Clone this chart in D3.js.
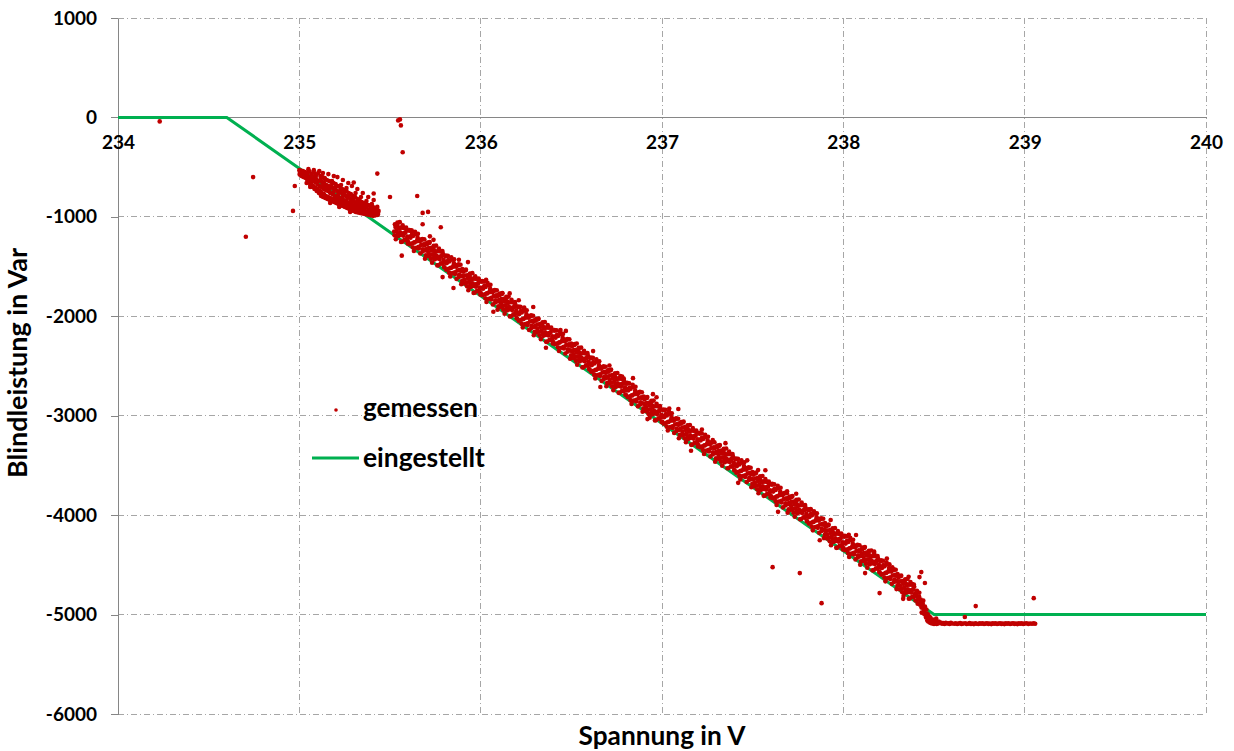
<!DOCTYPE html>
<html><head><meta charset="utf-8">
<script src="https://cdn.jsdelivr.net/npm/d3@7"></script>
<style>
body{margin:0;background:#fff}
text{font-family:Lato,"Open Sans",sans-serif;font-weight:bold;fill:#000}
</style>
</head><body>
<svg id="c" width="1234" height="751"></svg>
<script>
const xTicks=[234,235,236,237,238,239,240];
const yTicks=[1000,0,-1000,-2000,-3000,-4000,-5000,-6000];
const xTitle="Spannung in V";
const yTitle="Blindleistung in Var";
const legendLabels=["gemessen","eingestellt"];
// eingestellt (set characteristic)
const setV=[234,234.6,238.5,240];
const setQ=[0,0,-5000,-5000];
const measuredCluster1=[
[235.000,-530],[235.003,-560],[235.010,-545],[235.013,-590],[235.020,-540],[235.024,-600],[235.027,-570],
[235.032,-550],[235.036,-610],[235.040,-660],[235.044,-560],[235.048,-640],[235.051,-600],
[235.056,-545],[235.060,-680],[235.063,-620],[235.068,-570],[235.072,-700],[235.075,-640],
[235.080,-555],[235.084,-720],[235.087,-650],[235.092,-580],[235.096,-740],[235.099,-670],
[235.104,-560],[235.108,-760],[235.111,-690],[235.116,-590],[235.119,-780],[235.122,-700],[235.125,-650],
[235.128,-600],[235.131,-800],[235.134,-720],[235.137,-660],[235.140,-610],[235.143,-810],[235.146,-730],[235.149,-680],
[235.152,-630],[235.155,-820],[235.158,-740],[235.161,-690],[235.164,-640],[235.167,-830],[235.170,-760],[235.173,-700],
[235.176,-650],[235.179,-840],[235.182,-770],[235.185,-710],[235.188,-660],[235.191,-850],[235.194,-790],[235.197,-720],
[235.200,-670],[235.203,-860],[235.206,-800],[235.209,-740],[235.212,-690],[235.215,-870],[235.218,-810],[235.221,-750],
[235.224,-700],[235.227,-880],[235.230,-820],[235.233,-760],[235.236,-720],[235.239,-890],[235.242,-830],[235.245,-780],
[235.248,-730],[235.251,-900],[235.254,-850],[235.257,-790],[235.260,-740],[235.263,-910],[235.266,-860],[235.269,-800],
[235.272,-760],[235.275,-920],[235.278,-870],[235.281,-820],[235.284,-770],[235.287,-930],[235.290,-880],[235.293,-830],
[235.296,-790],[235.299,-940],[235.302,-890],[235.305,-850],[235.308,-800],[235.311,-950],[235.314,-900],[235.317,-860],
[235.320,-820],[235.323,-955],[235.326,-910],[235.329,-870],[235.332,-830],[235.335,-960],[235.338,-920],[235.341,-880],
[235.344,-850],[235.347,-965],[235.350,-930],[235.353,-890],[235.356,-860],[235.359,-970],[235.362,-940],[235.365,-900],
[235.368,-870],[235.371,-975],[235.374,-950],[235.380,-880],[235.383,-980],[235.386,-940],[235.392,-890],[235.395,-985],[235.398,-950],
[235.404,-900],[235.407,-990],[235.410,-960],[235.416,-910],[235.419,-985],[235.422,-950],[235.428,-920],[235.431,-980],[235.434,-960],[235.437,-940],
[235.002,-575],[235.007,-535],[235.015,-565],[235.022,-585],[235.030,-595],[235.034,-575],[235.042,-620],[235.046,-585],[235.053,-650],[235.058,-605],
[235.065,-660],[235.070,-615],[235.077,-690],[235.082,-600],[235.089,-705],[235.094,-625],[235.101,-720],[235.106,-640],[235.113,-735],[235.118,-620],
[235.124,-760],[235.129,-690],[235.136,-770],[235.141,-700],[235.147,-790],[235.153,-710],[235.159,-800],[235.165,-730],[235.171,-810],[235.177,-690],
[235.183,-820],[235.189,-750],[235.195,-830],[235.201,-700],[235.207,-840],[235.213,-780],[235.219,-850],[235.225,-740],[235.231,-860],[235.237,-800],
[235.243,-870],[235.249,-760],[235.255,-880],[235.261,-830],[235.267,-890],[235.273,-790],[235.279,-900],[235.285,-850],[235.291,-910],[235.297,-820],
[235.303,-920],[235.309,-870],[235.315,-930],[235.321,-850],[235.327,-940],[235.333,-895],[235.339,-945],[235.345,-875],[235.351,-950],[235.357,-915],
[235.363,-960],[235.369,-900],[235.376,-965],[235.382,-925],[235.389,-970],[235.396,-915],[235.403,-975],[235.411,-935],[235.418,-965],[235.425,-945],[235.433,-975],
[235.05,-520],[235.08,-530],[235.11,-540],[235.13,-560],[235.16,-570],[235.19,-590],[235.21,-600],[235.24,-630],[235.27,-660],[235.29,-690],[235.32,-720],[235.35,-760],
[235.38,-800],[235.41,-830],[235.09,-600],[235.14,-620],[235.18,-640],[235.23,-680],[235.26,-710],[235.31,-760],[235.34,-800],[235.37,-840],[235.40,-870],[235.43,-900],
[235.06,-700],[235.12,-790],[235.17,-860],[235.22,-900],[235.28,-950]
];
const measuredBand=[
[235.523,-1148],[235.527,-1074],[235.532,-1225],[235.536,-1140],[235.541,-1056],[235.545,-1192],[235.550,-1118],[235.554,-1053],[235.558,-1183],[235.563,-1110],[235.567,-1250],[235.572,-1166],[235.576,-1111],[235.580,-1231],[235.585,-1158],[235.589,-1108],[235.594,-1219],[235.598,-1269],
[235.602,-1205],[235.606,-1140],[235.610,-1275],[235.614,-1195],[235.619,-1136],[235.623,-1266],[235.627,-1192],[235.632,-1343],[235.636,-1258],[235.641,-1174],[235.645,-1310],[235.650,-1236],[235.654,-1171],[235.658,-1301],[235.663,-1228],[235.667,-1368],[235.672,-1284],[235.676,-1229],[235.680,-1349],[235.685,-1276],[235.689,-1226],[235.694,-1337],[235.698,-1387],
[235.702,-1323],[235.706,-1258],[235.710,-1393],[235.714,-1313],[235.719,-1254],[235.723,-1384],[235.727,-1310],[235.732,-1461],[235.736,-1376],[235.741,-1292],[235.745,-1428],[235.750,-1354],[235.754,-1289],[235.758,-1419],[235.763,-1346],[235.767,-1486],[235.772,-1402],[235.776,-1347],[235.780,-1467],[235.785,-1394],[235.789,-1344],[235.794,-1455],[235.798,-1505],
[235.802,-1461],[235.806,-1396],[235.810,-1531],[235.814,-1451],[235.819,-1392],[235.823,-1522],[235.827,-1448],[235.832,-1599],[235.836,-1514],[235.841,-1430],[235.845,-1566],[235.850,-1492],[235.854,-1427],[235.858,-1557],[235.863,-1484],[235.867,-1624],[235.872,-1540],[235.876,-1485],[235.880,-1605],[235.885,-1532],[235.889,-1482],[235.894,-1593],[235.898,-1643],
[235.902,-1600],[235.906,-1535],[235.910,-1670],[235.914,-1590],[235.919,-1531],[235.923,-1661],[235.927,-1587],[235.932,-1738],[235.936,-1653],[235.941,-1569],[235.945,-1705],[235.950,-1631],[235.954,-1566],[235.958,-1696],[235.963,-1623],[235.967,-1763],[235.972,-1679],[235.976,-1624],[235.980,-1744],[235.985,-1671],[235.989,-1621],[235.994,-1732],[235.998,-1782],
[236.002,-1718],[236.006,-1653],[236.010,-1788],[236.014,-1708],[236.019,-1649],[236.023,-1779],[236.027,-1705],[236.032,-1856],[236.036,-1771],[236.041,-1687],[236.045,-1823],[236.050,-1749],[236.054,-1684],[236.058,-1814],[236.063,-1741],[236.067,-1881],[236.072,-1797],[236.076,-1742],[236.080,-1862],[236.085,-1789],[236.089,-1739],[236.094,-1850],[236.098,-1900],
[236.102,-1836],[236.106,-1771],[236.110,-1906],[236.114,-1826],[236.119,-1767],[236.123,-1897],[236.127,-1823],[236.132,-1974],[236.136,-1889],[236.141,-1805],[236.145,-1941],[236.150,-1867],[236.154,-1802],[236.158,-1932],[236.163,-1859],[236.167,-1999],[236.172,-1915],[236.176,-1860],[236.180,-1980],[236.185,-1907],[236.189,-1857],[236.194,-1968],[236.198,-2018],
[236.202,-1974],[236.206,-1909],[236.210,-2044],[236.214,-1964],[236.219,-1905],[236.223,-2035],[236.227,-1961],[236.232,-2112],[236.236,-2027],[236.241,-1943],[236.245,-2079],[236.250,-2005],[236.254,-1940],[236.258,-2070],[236.263,-1997],[236.267,-2137],[236.272,-2053],[236.276,-1998],[236.280,-2118],[236.285,-2045],[236.289,-1995],[236.294,-2106],[236.298,-2156],
[236.302,-2092],[236.306,-2027],[236.310,-2162],[236.314,-2082],[236.319,-2023],[236.323,-2153],[236.327,-2079],[236.332,-2230],[236.336,-2145],[236.341,-2061],[236.345,-2197],[236.350,-2123],[236.354,-2058],[236.358,-2188],[236.363,-2115],[236.367,-2255],[236.372,-2171],[236.376,-2116],[236.380,-2236],[236.385,-2163],[236.389,-2113],[236.394,-2224],[236.398,-2274],
[236.402,-2211],[236.406,-2146],[236.410,-2281],[236.414,-2201],[236.419,-2142],[236.423,-2272],[236.427,-2198],[236.432,-2349],[236.436,-2264],[236.441,-2180],[236.445,-2316],[236.450,-2242],[236.454,-2177],[236.458,-2307],[236.463,-2234],[236.467,-2374],[236.472,-2290],[236.476,-2235],[236.480,-2355],[236.485,-2282],[236.489,-2232],[236.494,-2343],[236.498,-2393],
[236.502,-2349],[236.506,-2284],[236.510,-2419],[236.514,-2339],[236.519,-2280],[236.523,-2410],[236.527,-2336],[236.532,-2487],[236.536,-2402],[236.541,-2318],[236.545,-2454],[236.550,-2380],[236.554,-2315],[236.558,-2445],[236.563,-2372],[236.567,-2512],[236.572,-2428],[236.576,-2373],[236.580,-2493],[236.585,-2420],[236.589,-2370],[236.594,-2481],[236.598,-2531],
[236.602,-2487],[236.606,-2422],[236.610,-2557],[236.614,-2477],[236.619,-2418],[236.623,-2548],[236.627,-2474],[236.632,-2625],[236.636,-2540],[236.641,-2456],[236.645,-2592],[236.650,-2518],[236.654,-2453],[236.658,-2583],[236.663,-2510],[236.667,-2650],[236.672,-2566],[236.676,-2511],[236.680,-2631],[236.685,-2558],[236.689,-2508],[236.694,-2619],[236.698,-2669],
[236.702,-2605],[236.706,-2540],[236.710,-2675],[236.714,-2595],[236.719,-2536],[236.723,-2666],[236.727,-2592],[236.732,-2743],[236.736,-2658],[236.741,-2574],[236.745,-2710],[236.750,-2636],[236.754,-2571],[236.758,-2701],[236.763,-2628],[236.767,-2768],[236.772,-2684],[236.776,-2629],[236.780,-2749],[236.785,-2676],[236.789,-2626],[236.794,-2737],[236.798,-2787],
[236.802,-2743],[236.806,-2678],[236.810,-2813],[236.814,-2733],[236.819,-2674],[236.823,-2804],[236.827,-2730],[236.832,-2881],[236.836,-2796],[236.841,-2712],[236.845,-2848],[236.850,-2774],[236.854,-2709],[236.858,-2839],[236.863,-2766],[236.867,-2906],[236.872,-2822],[236.876,-2767],[236.880,-2887],[236.885,-2814],[236.889,-2764],[236.894,-2875],[236.898,-2925],
[236.902,-2882],[236.906,-2817],[236.910,-2952],[236.914,-2872],[236.919,-2813],[236.923,-2943],[236.927,-2869],[236.932,-3020],[236.936,-2935],[236.941,-2851],[236.945,-2987],[236.950,-2913],[236.954,-2848],[236.958,-2978],[236.963,-2905],[236.967,-3045],[236.972,-2961],[236.976,-2906],[236.980,-3026],[236.985,-2953],[236.989,-2903],[236.994,-3014],[236.998,-3064],
[237.002,-3010],[237.006,-2945],[237.010,-3080],[237.014,-3000],[237.019,-2941],[237.023,-3071],[237.027,-2997],[237.032,-3148],[237.036,-3063],[237.041,-2979],[237.045,-3115],[237.050,-3041],[237.054,-2976],[237.058,-3106],[237.063,-3033],[237.067,-3173],[237.072,-3089],[237.076,-3034],[237.080,-3154],[237.085,-3081],[237.089,-3031],[237.094,-3142],[237.098,-3192],
[237.102,-3128],[237.106,-3063],[237.110,-3198],[237.114,-3118],[237.119,-3059],[237.123,-3189],[237.127,-3115],[237.132,-3266],[237.136,-3181],[237.141,-3097],[237.145,-3233],[237.150,-3159],[237.154,-3094],[237.158,-3224],[237.163,-3151],[237.167,-3291],[237.172,-3207],[237.176,-3152],[237.180,-3272],[237.185,-3199],[237.189,-3149],[237.194,-3260],[237.198,-3310],
[237.202,-3246],[237.206,-3181],[237.210,-3316],[237.214,-3236],[237.219,-3177],[237.223,-3307],[237.227,-3233],[237.232,-3384],[237.236,-3299],[237.241,-3215],[237.245,-3351],[237.250,-3277],[237.254,-3212],[237.258,-3342],[237.263,-3269],[237.267,-3409],[237.272,-3325],[237.276,-3270],[237.280,-3390],[237.285,-3317],[237.289,-3267],[237.294,-3378],[237.298,-3428],
[237.302,-3364],[237.306,-3299],[237.310,-3434],[237.314,-3354],[237.319,-3295],[237.323,-3425],[237.327,-3351],[237.332,-3502],[237.336,-3417],[237.341,-3333],[237.345,-3469],[237.350,-3395],[237.354,-3330],[237.358,-3460],[237.363,-3387],[237.367,-3527],[237.372,-3443],[237.376,-3388],[237.380,-3508],[237.385,-3435],[237.389,-3385],[237.394,-3496],[237.398,-3546],
[237.402,-3503],[237.406,-3438],[237.410,-3573],[237.414,-3493],[237.419,-3434],[237.423,-3564],[237.427,-3490],[237.432,-3641],[237.436,-3556],[237.441,-3472],[237.445,-3608],[237.450,-3534],[237.454,-3469],[237.458,-3599],[237.463,-3526],[237.467,-3666],[237.472,-3582],[237.476,-3527],[237.480,-3647],[237.485,-3574],[237.489,-3524],[237.494,-3635],[237.498,-3685],
[237.502,-3641],[237.506,-3576],[237.510,-3711],[237.514,-3631],[237.519,-3572],[237.523,-3702],[237.527,-3628],[237.532,-3779],[237.536,-3694],[237.541,-3610],[237.545,-3746],[237.550,-3672],[237.554,-3607],[237.558,-3737],[237.563,-3664],[237.567,-3804],[237.572,-3720],[237.576,-3665],[237.580,-3785],[237.585,-3712],[237.589,-3662],[237.594,-3773],[237.598,-3823],
[237.602,-3759],[237.606,-3694],[237.610,-3829],[237.614,-3749],[237.619,-3690],[237.623,-3820],[237.627,-3746],[237.632,-3897],[237.636,-3812],[237.641,-3728],[237.645,-3864],[237.650,-3790],[237.654,-3725],[237.658,-3855],[237.663,-3782],[237.667,-3922],[237.672,-3838],[237.676,-3783],[237.680,-3903],[237.685,-3830],[237.689,-3780],[237.694,-3891],[237.698,-3941],
[237.702,-3877],[237.706,-3812],[237.710,-3947],[237.714,-3867],[237.719,-3808],[237.723,-3938],[237.727,-3864],[237.732,-4015],[237.736,-3930],[237.741,-3846],[237.745,-3982],[237.750,-3908],[237.754,-3843],[237.758,-3973],[237.763,-3900],[237.767,-4040],[237.772,-3956],[237.776,-3901],[237.780,-4021],[237.785,-3948],[237.789,-3898],[237.794,-4009],[237.798,-4059],
[237.802,-4015],[237.806,-3950],[237.810,-4085],[237.814,-4005],[237.819,-3946],[237.823,-4076],[237.827,-4002],[237.832,-4153],[237.836,-4068],[237.841,-3984],[237.845,-4120],[237.850,-4046],[237.854,-3981],[237.858,-4111],[237.863,-4038],[237.867,-4178],[237.872,-4094],[237.876,-4039],[237.880,-4159],[237.885,-4086],[237.889,-4036],[237.894,-4147],[237.898,-4197],
[237.902,-4164],[237.906,-4099],[237.910,-4234],[237.914,-4154],[237.919,-4095],[237.923,-4225],[237.927,-4151],[237.932,-4302],[237.936,-4217],[237.941,-4133],[237.945,-4269],[237.950,-4195],[237.954,-4130],[237.958,-4260],[237.963,-4187],[237.967,-4327],[237.972,-4243],[237.976,-4188],[237.980,-4308],[237.985,-4235],[237.989,-4185],[237.994,-4296],[237.998,-4346],
[238.002,-4282],[238.006,-4217],[238.010,-4352],[238.014,-4272],[238.019,-4213],[238.023,-4343],[238.027,-4269],[238.032,-4420],[238.036,-4335],[238.041,-4251],[238.045,-4387],[238.050,-4313],[238.054,-4248],[238.058,-4378],[238.063,-4305],[238.067,-4445],[238.072,-4361],[238.076,-4306],[238.080,-4426],[238.085,-4353],[238.089,-4303],[238.094,-4414],[238.098,-4464],
[238.102,-4390],[238.106,-4325],[238.110,-4460],[238.114,-4380],[238.119,-4321],[238.123,-4451],[238.127,-4377],[238.132,-4528],[238.136,-4443],[238.141,-4359],[238.145,-4495],[238.150,-4421],[238.154,-4356],[238.158,-4486],[238.163,-4413],[238.167,-4553],[238.172,-4469],[238.176,-4414],[238.180,-4534],[238.185,-4461],[238.189,-4411],[238.194,-4522],[238.198,-4572],
[238.202,-4528],[238.206,-4463],[238.210,-4598],[238.214,-4518],[238.219,-4459],[238.223,-4589],[238.227,-4515],[238.232,-4666],[238.236,-4581],[238.241,-4497],[238.245,-4633],[238.250,-4559],[238.254,-4494],[238.258,-4624],[238.263,-4551],[238.267,-4691],[238.272,-4607],[238.276,-4552],[238.280,-4672],[238.285,-4599],[238.289,-4549],[238.294,-4660],[238.298,-4710],
[238.302,-4676],[238.306,-4611],[238.310,-4746],[238.314,-4666],[238.319,-4607],[238.323,-4737],[238.327,-4663],[238.332,-4814],[238.336,-4729],[238.341,-4645],[238.345,-4781],[238.350,-4707],[238.354,-4642],[238.358,-4772],[238.363,-4699],[238.367,-4839],[238.372,-4755],[238.376,-4700],[238.380,-4820],[238.385,-4747],[238.389,-4697],[238.394,-4808],[238.398,-4858],
[238.402,-4810],[238.406,-4760],[238.410,-4890],[238.414,-4830],[238.419,-4780],[238.423,-4900],[238.427,-4850],[238.432,-4980],[238.436,-4910],[238.441,-4860],[238.445,-4960],[238.450,-4920],[238.454,-5010],[238.458,-4950],[238.463,-5060],[238.467,-5000],[238.472,-5040],[238.476,-5080],[238.480,-5030],[238.485,-5070],[238.489,-5090],[238.494,-5050],[238.498,-5080],[238.503,-5060],[238.508,-5085],[238.512,-5040],[238.517,-5075],[238.521,-5090],[238.526,-5070]
];
const measuredBand2=[
[235.525,-1186],[235.530,-1102],[235.539,-1074],[235.543,-1169],[235.547,-1104],[235.556,-1156],[235.561,-1252],[235.570,-1084],[235.574,-1189],[235.583,-1160],[235.587,-1236],[235.591,-1131],[235.596,-1197],
[235.601,-1253],[235.608,-1132],[235.613,-1209],[235.621,-1179],[235.626,-1305],[235.634,-1256],[235.638,-1151],[235.649,-1245],[235.652,-1209],[235.659,-1318],[235.665,-1245],[235.678,-1222],[235.681,-1326],[235.690,-1287],[235.693,-1421],[235.699,-1269],
[235.704,-1275],[235.712,-1355],[235.717,-1262],[235.725,-1422],[235.730,-1338],[235.739,-1310],[235.743,-1405],[235.747,-1340],[235.756,-1392],[235.761,-1488],[235.770,-1320],[235.774,-1425],[235.783,-1396],[235.787,-1472],[235.791,-1367],[235.796,-1433],
[235.801,-1509],[235.808,-1388],[235.813,-1465],[235.821,-1435],[235.826,-1561],[235.834,-1512],[235.838,-1407],[235.849,-1501],[235.852,-1465],[235.859,-1574],[235.865,-1501],[235.878,-1478],[235.881,-1582],[235.890,-1543],[235.893,-1677],[235.899,-1525],
[235.904,-1552],[235.912,-1632],[235.917,-1539],[235.925,-1699],[235.930,-1615],[235.939,-1587],[235.943,-1682],[235.947,-1617],[235.956,-1669],[235.961,-1765],[235.970,-1597],[235.974,-1702],[235.983,-1673],[235.987,-1749],[235.991,-1644],[235.996,-1710],
[236.001,-1766],[236.008,-1645],[236.013,-1722],[236.021,-1692],[236.026,-1818],[236.034,-1769],[236.038,-1664],[236.049,-1758],[236.052,-1722],[236.059,-1831],[236.065,-1758],[236.078,-1735],[236.081,-1839],[236.090,-1800],[236.093,-1934],[236.099,-1782],
[236.104,-1788],[236.112,-1868],[236.117,-1775],[236.125,-1935],[236.130,-1851],[236.139,-1823],[236.143,-1918],[236.147,-1853],[236.156,-1905],[236.161,-2001],[236.170,-1833],[236.174,-1938],[236.183,-1909],[236.187,-1985],[236.191,-1880],[236.196,-1946],
[236.201,-2022],[236.208,-1901],[236.213,-1978],[236.221,-1948],[236.226,-2074],[236.234,-2025],[236.238,-1920],[236.249,-2014],[236.252,-1978],[236.259,-2087],[236.265,-2014],[236.278,-1991],[236.281,-2095],[236.290,-2056],[236.293,-2190],[236.299,-2038],
[236.304,-2044],[236.312,-2124],[236.317,-2031],[236.325,-2191],[236.330,-2107],[236.339,-2079],[236.343,-2174],[236.347,-2109],[236.356,-2161],[236.361,-2257],[236.370,-2089],[236.374,-2194],[236.383,-2165],[236.387,-2241],[236.391,-2136],[236.396,-2202],
[236.401,-2259],[236.408,-2138],[236.413,-2215],[236.421,-2185],[236.426,-2311],[236.434,-2262],[236.438,-2157],[236.449,-2251],[236.452,-2215],[236.459,-2324],[236.465,-2251],[236.478,-2228],[236.481,-2332],[236.490,-2293],[236.493,-2427],[236.499,-2275],
[236.504,-2301],[236.512,-2381],[236.517,-2288],[236.525,-2448],[236.530,-2364],[236.539,-2336],[236.543,-2431],[236.547,-2366],[236.556,-2418],[236.561,-2514],[236.570,-2346],[236.574,-2451],[236.583,-2422],[236.587,-2498],[236.591,-2393],[236.596,-2459],
[236.601,-2535],[236.608,-2414],[236.613,-2491],[236.621,-2461],[236.626,-2587],[236.634,-2538],[236.638,-2433],[236.649,-2527],[236.652,-2491],[236.659,-2600],[236.665,-2527],[236.678,-2504],[236.681,-2608],[236.690,-2569],[236.693,-2703],[236.699,-2551],
[236.704,-2557],[236.712,-2637],[236.717,-2544],[236.725,-2704],[236.730,-2620],[236.739,-2592],[236.743,-2687],[236.747,-2622],[236.756,-2674],[236.761,-2770],[236.770,-2602],[236.774,-2707],[236.783,-2678],[236.787,-2754],[236.791,-2649],[236.796,-2715],
[236.801,-2791],[236.808,-2670],[236.813,-2747],[236.821,-2717],[236.826,-2843],[236.834,-2794],[236.838,-2689],[236.849,-2783],[236.852,-2747],[236.859,-2856],[236.865,-2783],[236.878,-2760],[236.881,-2864],[236.890,-2825],[236.893,-2959],[236.899,-2807],
[236.904,-2834],[236.912,-2914],[236.917,-2821],[236.925,-2981],[236.930,-2897],[236.939,-2869],[236.943,-2964],[236.947,-2899],[236.956,-2951],[236.961,-3047],[236.970,-2879],[236.974,-2984],[236.983,-2955],[236.987,-3031],[236.991,-2926],[236.996,-2992],
[237.001,-3058],[237.008,-2937],[237.013,-3014],[237.021,-2984],[237.026,-3110],[237.034,-3061],[237.038,-2956],[237.049,-3050],[237.052,-3014],[237.059,-3123],[237.065,-3050],[237.078,-3027],[237.081,-3131],[237.090,-3092],[237.093,-3226],[237.099,-3074],
[237.104,-3080],[237.112,-3160],[237.117,-3067],[237.125,-3227],[237.130,-3143],[237.139,-3115],[237.143,-3210],[237.147,-3145],[237.156,-3197],[237.161,-3293],[237.170,-3125],[237.174,-3230],[237.183,-3201],[237.187,-3277],[237.191,-3172],[237.196,-3238],
[237.201,-3294],[237.208,-3173],[237.213,-3250],[237.221,-3220],[237.226,-3346],[237.234,-3297],[237.238,-3192],[237.249,-3286],[237.252,-3250],[237.259,-3359],[237.265,-3286],[237.278,-3263],[237.281,-3367],[237.290,-3328],[237.293,-3462],[237.299,-3310],
[237.304,-3316],[237.312,-3396],[237.317,-3303],[237.325,-3463],[237.330,-3379],[237.339,-3351],[237.343,-3446],[237.347,-3381],[237.356,-3433],[237.361,-3529],[237.370,-3361],[237.374,-3466],[237.383,-3437],[237.387,-3513],[237.391,-3408],[237.396,-3474],
[237.401,-3551],[237.408,-3430],[237.413,-3507],[237.421,-3477],[237.426,-3603],[237.434,-3554],[237.438,-3449],[237.449,-3543],[237.452,-3507],[237.459,-3616],[237.465,-3543],[237.478,-3520],[237.481,-3624],[237.490,-3585],[237.493,-3719],[237.499,-3567],
[237.504,-3593],[237.512,-3673],[237.517,-3580],[237.525,-3740],[237.530,-3656],[237.539,-3628],[237.543,-3723],[237.547,-3658],[237.556,-3710],[237.561,-3806],[237.570,-3638],[237.574,-3743],[237.583,-3714],[237.587,-3790],[237.591,-3685],[237.596,-3751],
[237.601,-3807],[237.608,-3686],[237.613,-3763],[237.621,-3733],[237.626,-3859],[237.634,-3810],[237.638,-3705],[237.649,-3799],[237.652,-3763],[237.659,-3872],[237.665,-3799],[237.678,-3776],[237.681,-3880],[237.690,-3841],[237.693,-3975],[237.699,-3823],
[237.704,-3829],[237.712,-3909],[237.717,-3816],[237.725,-3976],[237.730,-3892],[237.739,-3864],[237.743,-3959],[237.747,-3894],[237.756,-3946],[237.761,-4042],[237.770,-3874],[237.774,-3979],[237.783,-3950],[237.787,-4026],[237.791,-3921],[237.796,-3987],
[237.801,-4063],[237.808,-3942],[237.813,-4019],[237.821,-3989],[237.826,-4115],[237.834,-4066],[237.838,-3961],[237.849,-4055],[237.852,-4019],[237.859,-4128],[237.865,-4055],[237.878,-4032],[237.881,-4136],[237.890,-4097],[237.893,-4231],[237.899,-4079],
[237.904,-4116],[237.912,-4196],[237.917,-4103],[237.925,-4263],[237.930,-4179],[237.939,-4151],[237.943,-4246],[237.947,-4181],[237.956,-4233],[237.961,-4329],[237.970,-4161],[237.974,-4266],[237.983,-4237],[237.987,-4313],[237.991,-4208],[237.996,-4274],
[238.001,-4330],[238.008,-4209],[238.013,-4286],[238.021,-4256],[238.026,-4382],[238.034,-4333],[238.038,-4228],[238.049,-4322],[238.052,-4286],[238.059,-4395],[238.065,-4322],[238.078,-4299],[238.081,-4403],[238.090,-4364],[238.093,-4498],[238.099,-4346],
[238.104,-4342],[238.112,-4422],[238.117,-4329],[238.125,-4489],[238.130,-4405],[238.139,-4377],[238.143,-4472],[238.147,-4407],[238.156,-4459],[238.161,-4555],[238.170,-4387],[238.174,-4492],[238.183,-4463],[238.187,-4539],[238.191,-4434],[238.196,-4500],
[238.201,-4576],[238.208,-4455],[238.213,-4532],[238.221,-4502],[238.226,-4628],[238.234,-4579],[238.238,-4474],[238.249,-4568],[238.252,-4532],[238.259,-4641],[238.265,-4568],[238.278,-4545],[238.281,-4649],[238.290,-4610],[238.293,-4744],[238.299,-4592],
[238.304,-4628],[238.312,-4708],[238.317,-4615],[238.325,-4775],[238.330,-4691],[238.339,-4663],[238.343,-4758],[238.347,-4693],[238.356,-4745],[238.361,-4841],[238.370,-4673],[238.374,-4778],[238.383,-4749],[238.387,-4825],[238.391,-4720],[238.396,-4786],
[238.404,-4790],[238.412,-4850],[238.418,-4820],[238.425,-4880],[238.431,-4930],[238.438,-4890],[238.443,-4990],[238.448,-4950],[238.456,-5030],[238.461,-4990],[238.468,-5070],[238.474,-5020],[238.483,-5085],[238.491,-5060],[238.500,-5095],[238.506,-5070],[238.515,-5095],[238.523,-5080]
];
const measuredScatter=[
[235.74,-1231],[235.79,-1606],[235.88,-1431],[235.93,-1455],[236.03,-1633],[236.07,-1955],[236.16,-1770],[236.24,-1912],[236.29,-1907],[236.36,-2316],
[236.44,-2139],[236.47,-2147],[236.53,-2274],[236.62,-2350],[236.66,-2711],[236.71,-2495],[236.78,-2605],[236.84,-2622],[236.92,-3034],[236.95,-2783],
[237.04,-2928],[237.09,-2932],[237.16,-3352],[237.22,-3139],[237.28,-3246],[237.35,-3276],[237.42,-3675],[237.47,-3449],[237.53,-3546],[237.57,-3548],
[237.64,-3967],[237.69,-3761],[237.74,-3785],[237.82,-3938],[237.87,-4252],[237.93,-4049],[238.03,-4197],[238.07,-4199],[238.12,-4583],[238.17,-4367],
[238.24,-4436],[238.27,-4525],[238.33,-4842],[238.36,-4620]
];
const measuredFlat=[
[238.530,-5085],[238.537,-5080],[238.544,-5092],[238.551,-5086],[238.558,-5095],[238.565,-5082],[238.572,-5090],[238.579,-5088],[238.586,-5094],[238.593,-5084],[238.600,-5090],[238.612,-5093],[238.620,-5088],[238.628,-5095],[238.636,-5090],[238.644,-5086],[238.652,-5094],[238.660,-5091],[238.672,-5088],[238.680,-5095],[238.688,-5092],[238.696,-5086],[238.704,-5094],[238.712,-5090],[238.720,-5096],[238.728,-5088],[238.736,-5092],[238.744,-5095],[238.752,-5089],[238.760,-5093],[238.768,-5087],[238.776,-5095],[238.784,-5091],[238.792,-5088],[238.800,-5094],[238.808,-5090],[238.816,-5096],[238.824,-5089],[238.832,-5093],[238.840,-5087],[238.848,-5095],[238.856,-5091],[238.864,-5088],[238.872,-5094],[238.880,-5090],[238.888,-5096],[238.896,-5089],[238.904,-5093],[238.912,-5087],[238.920,-5095],[238.928,-5091],[238.936,-5088],[238.944,-5094],[238.952,-5090],[238.960,-5096],[238.968,-5089],[238.976,-5093],[238.984,-5087],[238.992,-5095],[239.000,-5091],[239.010,-5088],[239.020,-5094],[239.030,-5090],[239.040,-5093],[239.050,-5089],[239.058,-5092]
];
const measuredOutliers=[
[234.23,-40],[234.705,-1200],[234.745,-600],[234.965,-940],[234.975,-690],[235.545,-30],[235.555,-20],[235.56,-80],[235.57,-350],
[235.43,-565],[235.30,-655],[235.41,-765],[235.50,-800],[235.65,-790],[235.68,-960],[235.71,-950],[235.68,-1075],[235.78,-1105],
[235.72,-1196],[235.62,-1146],[235.565,-1390],[235.85,-1715],[236.12,-1769],[236.21,-1839],[236.97,-2814],[237.61,-4523],
[237.76,-4583],[237.88,-4885],[238.43,-4573],[238.42,-4623],[238.45,-4683],[238.38,-4693],[238.20,-4784],[238.73,-4915],
[238.67,-5025],[239.05,-4835]
];
const measured=[].concat(measuredCluster1,measuredBand,measuredBand2,measuredScatter,measuredFlat,measuredOutliers);

const svg=d3.select("#c");
const x=d3.scaleLinear().domain([234,240]).range([118,1206]);
const y=d3.scaleLinear().domain([-6000,1000]).range([714,18]);
const gridColor="#a6a6a6", axisColor="#868686";

// gridlines
svg.append("g").selectAll("line").data(yTicks.filter(d=>d!==0)).join("line")
  .attr("x1",x(234)).attr("x2",x(240)).attr("y1",d=>y(d)).attr("y2",d=>y(d))
  .attr("stroke",gridColor).attr("stroke-width",1).attr("stroke-dasharray","6,3,1,3").attr("shape-rendering","crispEdges");
svg.append("g").selectAll("line").data(xTicks.filter(d=>d!==234)).join("line")
  .attr("x1",d=>x(d)).attr("x2",d=>x(d)).attr("y1",y(1000)).attr("y2",y(-6000))
  .attr("stroke",gridColor).attr("stroke-width",1).attr("stroke-dasharray","6,3,1,3").attr("shape-rendering","crispEdges");

// y axis
const ya=svg.append("g").attr("transform",`translate(${x(234)},0)`)
  .call(d3.axisLeft(y).tickValues(yTicks).tickSize(7).tickSizeOuter(0).tickPadding(14).tickFormat(d=>String(d)));
ya.selectAll("path,line").attr("stroke",axisColor).attr("shape-rendering","crispEdges");
ya.selectAll("text").style("font-size","19px").style("font-family","Lato").style("font-weight","bold").attr("fill","#000");

// x axis at y=0
const xa=svg.append("g").attr("transform",`translate(0,${y(0)})`)
  .call(d3.axisBottom(x).tickValues(xTicks).tickSize(0).tickSizeOuter(0).tickPadding(18).tickFormat(d=>String(d)));
xa.selectAll("path").attr("stroke",axisColor).attr("shape-rendering","crispEdges");
xa.selectAll("text").style("font-size","19px").style("font-family","Lato").style("font-weight","bold").attr("fill","#000");

// set line
const setData=setV.map((v,i)=>[v,setQ[i]]);
svg.append("path").datum(setData)
  .attr("d",d3.line().x(d=>x(d[0])).y(d=>y(d[1])))
  .attr("fill","none").attr("stroke","#00b050").attr("stroke-width",3);

// measured points (on top of the line)
svg.append("g").selectAll("circle").data(measured).join("circle")
  .attr("cx",d=>x(d[0])).attr("cy",d=>y(d[1])).attr("r",2.3).attr("fill","#c00000");

// titles
function fit(t,w){const n=t.node();const l=n.getComputedTextLength();const fs=parseFloat(t.style("font-size"));t.style("font-size",(fs*w/l)+"px");}
const xt=svg.append("text").attr("x",662).attr("y",745).attr("text-anchor","middle").style("font-size","22px").text(xTitle);
fit(xt,167);
const yt=svg.append("text").attr("transform","translate(27,363) rotate(-90)").attr("text-anchor","middle").style("font-size","22px").text(yTitle);
fit(yt,230);

// legend
svg.append("circle").attr("cx",336).attr("cy",410).attr("r",1.8).attr("fill","#c00000");
const l1=svg.append("text").attr("x",363).attr("y",417).style("font-size","22px").text(legendLabels[0]);
fit(l1,115);
svg.append("line").attr("x1",312).attr("x2",359).attr("y1",458).attr("y2",458).attr("stroke","#00b050").attr("stroke-width",3);
const l2=svg.append("text").attr("x",363).attr("y",467).style("font-size","22px").text(legendLabels[1]);
fit(l2,122);
</script>
</body></html>
